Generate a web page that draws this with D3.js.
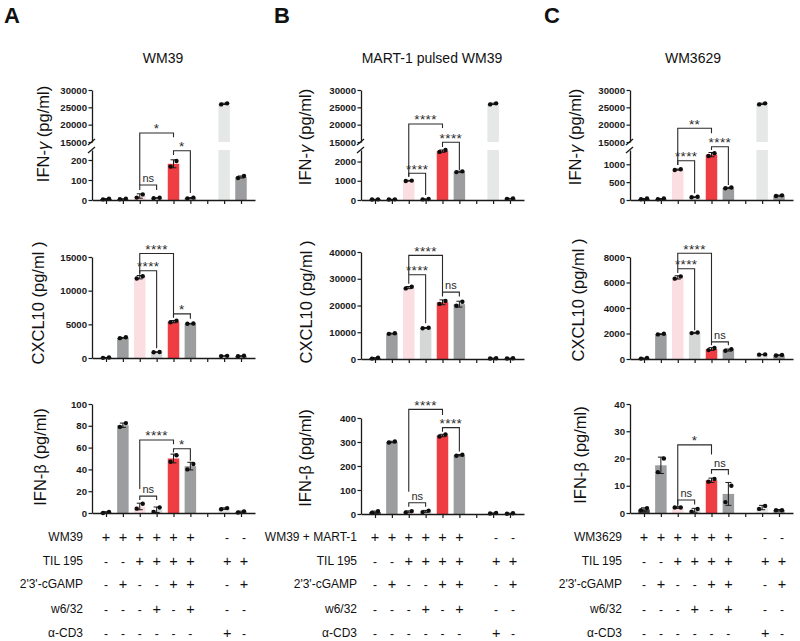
<!DOCTYPE html>
<html><head><meta charset="utf-8">
<script src="https://cdn.jsdelivr.net/npm/d3@7"></script>
<style>body{margin:0;background:#fff;} svg text{font-family:Arial,"Liberation Sans",Helvetica,sans-serif;}</style>
</head><body><svg id="c" width="800" height="641"></svg>
<script>
// ---------------- DATA ----------------
const SLOTS = [0,1,2,3,4,5,7,8];               // 9 x positions, slot 6 empty
const BAR_COLORS = ["#3d3d3d","#9c9d9f","#fbdee1","#d5d6d6","#ee3e44","#9c9d9f","#e6e7e7","#9c9d9f"];
const PANEL_LETTERS = ["A","B","C"];
const PANEL_TITLES = ["WM39","MART-1 pulsed WM39","WM3629"];
const FIRST_ROW = ["WM39","WM39 + MART-1","WM3629"];
const ROW_LABELS = ["TIL 195","2'3'-cGAMP","w6/32","α-CD3"];
const TABLE_SIGNS = [
  ["+","+","+","+","+","+","-","-"],
  ["-","-","+","+","+","+","+","+"],
  ["-","+","-","-","+","+","-","+"],
  ["-","-","-","+","-","+","-","-"],
  ["-","-","-","-","-","-","+","-"]];
const IFNG_UPPER_TICKS = [15000,20000,25000,30000];

// Panel A
const A_IFNG = [5,5,20,10,181,10,26000,115];
const A_IFNG_PTS = [[3,7],[4,6],[12,28],[9,11],[167,195],[8,12],[25850,26150],[110,120]];
const A_IFNG_ERR = [2,1,11,1,20,2,200,5];
const A_IFNG_LOW_TICKS = [0,100,200];
const A_IFNG_LOWMAX = 250;
const A_IFNG_SIG = [[2,4,17600,75,16400,"*"],[4,5,246,225,35,"*"],[2,3,75,50,50,"ns"]];

const A_CXCL = [50,3000,12000,880,5400,5100,300,300];
const A_CXCL_PTS = [[20,80],[2950,3080],[11800,12150],[850,900],[5300,5550],[5080,5130],[280,320],[270,330]];
const A_CXCL_ERR = [40,60,250,40,170,40,30,40];
const A_CXCL_TICKS = [0,5000,10000,15000];
const A_CXCL_SIG = [[2,4,15530,12600,6070,"****"],[2,3,12960,12380,1460,"****"],[4,5,6550,5970,5830,"*"]];

const A_IFNB = [0.5,80.5,6,3,50,43,4,1];
const A_IFNB_PTS = [[0,1],[79,82.5],[4,8.5],[1,5],[47,53],[40,45],[3.5,4.5],[0.5,1.5]];
const A_IFNB_ERR = [0.7,2,3,2.5,4,3.5,0.7,0.7];
const A_IFNB_TICKS = [0,20,40,60,80,100];
const A_IFNB_SIG = [[2,4,67,22,63,"****"],[4,5,59,55.5,48,"*"],[2,3,15.5,12,12,"ns"]];

// Panel B
const B_IFNG = [30,30,1000,40,2550,1470,26000,70];
const B_IFNG_PTS = [[25,35],[25,35],[990,1010],[30,50],[2500,2600],[1450,1490],[25850,26150],[60,80]];
const B_IFNG_ERR = [10,10,20,20,70,30,200,15];
const B_IFNG_LOW_TICKS = [0,1000,2000];
const B_IFNG_LOWMAX = 2600;
const B_IFNG_SIG = [[2,4,20200,1212,19040,"****"],[4,5,14500,7250,1560,"****"],[2,3,1388,1212,260,"****"]];

const B_CXCL = [300,9500,26700,11600,21200,20500,250,250];
const B_CXCL_PTS = [[150,450],[9400,9600],[26400,27000],[11500,11700],[20600,21700],[19900,21400],[200,300],[200,300]];
const B_CXCL_ERR = [200,150,400,150,900,1100,100,100];
const B_CXCL_TICKS = [0,10000,20000,30000,40000];
const B_CXCL_SIG = [[2,4,38750,31500,23400,"****"],[2,3,31500,28100,13400,"****"],[4,5,25000,23750,23400,"ns"]];

const B_IFNB = [8,300,9,11,327,245,3,2];
const B_IFNB_PTS = [[5,12],[298,302],[6,12],[8,14],[323,331],[243,247],[2,4],[1,3]];
const B_IFNB_ERR = [4,3,4,4,5,3,1.5,1.5];
const B_IFNB_TICKS = [0,100,200,300,400];
const B_IFNB_SIG = [[2,4,436,93,412,"****"],[4,5,360,343,260,"****"],[2,3,47,30,30,"ns"]];

// Panel C
const C_IFNG = [30,30,850,80,1270,340,26000,120];
const C_IFNG_PTS = [[20,40],[20,40],[840,860],[75,90],[1230,1310],[330,350],[25850,26150],[110,130]];
const C_IFNG_ERR = [12,12,15,10,60,15,200,15];
const C_IFNG_LOW_TICKS = [0,500,1000];
const C_IFNG_LOWMAX = 1400;
const C_IFNG_SIG = [[2,4,18950,980,17500,"**"],[4,5,7010,1400,420,"****"],[2,3,1100,980,188,"****"]];

const C_CXCL = [50,1950,6400,2050,780,700,350,300];
const C_CXCL_PTS = [[30,80],[1930,1980],[6300,6480],[2030,2080],[700,860],[650,760],[340,360],[280,320]];
const C_CXCL_ERR = [30,30,130,40,110,80,15,30];
const C_CXCL_TICKS = [0,2000,4000,6000,8000];
const C_CXCL_SIG = [[2,4,8300,7080,1210,"****"],[2,3,7080,6740,2260,"****"],[4,5,1340,1080,1080,"ns"]];

const C_IFNB = [1.3,17.5,2,1,12,7,2,1];
const C_IFNB_PTS = [[1,1.8],[15,20],[2,2],[0.5,1.5],[11.5,12.5],[4,10],[1.5,2.6],[1,1]];
const C_IFNB_ERR = [0.6,3,0.3,0.7,0.8,4.2,0.8,0.3];
const C_IFNB_TICKS = [0,10,20,30,40];
const C_IFNB_SIG = [[2,4,25,2.5,21.5,"*"],[4,5,15.9,14.4,14,"ns"],[2,3,4.75,3.1,3.1,"ns"]];

// ---------------- LAYOUT ----------------
const W = 163, BW = 11.5;
const PANEL_X0 = [92, 361, 630];
const LETTER_X = [4, 274, 544];
const TITLE_X = [163, 432, 693];
const TABLE_RIGHT = [83, 357, 622];
const TABLE_Y = [537, 561, 584, 609, 633];
const TABLE_X_SHIFT = [0,0,0,0,0,0,3,3];
const LAB_X = [[45,40,42],[307,308,307],[577,580,582]];
const LAB_Y = [[134,303,457],[137,302,458],[137,300,455]];
const IFNG_LOW_RANGE = [200,150], IFNG_UP_RANGE = [142,90];
const CXCL_RANGE = [[358,257],[359,252],[359,257]];
const IFNB_RANGE = [[513,404],[514,418],[513,404]];

const panels = [
  {ifng:{m:A_IFNG,p:A_IFNG_PTS,e:A_IFNG_ERR,t:A_IFNG_LOW_TICKS,low:A_IFNG_LOWMAX,s:A_IFNG_SIG},
   cxcl:{m:A_CXCL,p:A_CXCL_PTS,e:A_CXCL_ERR,t:A_CXCL_TICKS,s:A_CXCL_SIG},
   ifnb:{m:A_IFNB,p:A_IFNB_PTS,e:A_IFNB_ERR,t:A_IFNB_TICKS,s:A_IFNB_SIG}},
  {ifng:{m:B_IFNG,p:B_IFNG_PTS,e:B_IFNG_ERR,t:B_IFNG_LOW_TICKS,low:B_IFNG_LOWMAX,s:B_IFNG_SIG},
   cxcl:{m:B_CXCL,p:B_CXCL_PTS,e:B_CXCL_ERR,t:B_CXCL_TICKS,s:B_CXCL_SIG},
   ifnb:{m:B_IFNB,p:B_IFNB_PTS,e:B_IFNB_ERR,t:B_IFNB_TICKS,s:B_IFNB_SIG}},
  {ifng:{m:C_IFNG,p:C_IFNG_PTS,e:C_IFNG_ERR,t:C_IFNG_LOW_TICKS,low:C_IFNG_LOWMAX,s:C_IFNG_SIG},
   cxcl:{m:C_CXCL,p:C_CXCL_PTS,e:C_CXCL_ERR,t:C_CXCL_TICKS,s:C_CXCL_SIG},
   ifnb:{m:C_IFNB,p:C_IFNB_PTS,e:C_IFNB_ERR,t:C_IFNB_TICKS,s:C_IFNB_SIG}}
];

const svg = d3.select("#c");
const INK = "#1a1a1a";

function styleAxis(g){
  g.select(".domain").attr("stroke", INK).attr("stroke-width", 1.3);
  g.selectAll(".tick line").attr("stroke", INK).attr("stroke-width", 1.2);
  g.selectAll(".tick text").attr("font-size", 9.6).attr("font-weight", "bold")
    .attr("fill", INK).attr("font-family", "Arial, 'Liberation Sans', sans-serif");
}

function yLabel(x, y, parts){
  const t = svg.append("text").attr("transform", `translate(${x},${y}) rotate(-90)`)
    .attr("text-anchor","middle").attr("font-size",16.5).attr("fill","#111")
    .attr("dominant-baseline","middle");
  parts.forEach(p => t.append("tspan").text(p[0]).attr("font-style", p[1] ? "italic" : null));
}

function drawChart(c, x0, y, yAxes, broken){
  const x = d3.scalePoint().domain(d3.range(9)).range([x0, x0 + W]).padding(0.83);
  const g = svg.append("g");
  const y0 = y(0);
  // bars
  c.m.forEach((v, i) => {
    const cx = x(SLOTS[i]);
    if (broken && v > c.low) {
      g.append("rect").attr("x", cx - BW/2).attr("width", BW)
        .attr("y", y(c.low)).attr("height", y0 - y(c.low)).attr("fill", BAR_COLORS[i]);
      g.append("rect").attr("x", cx - BW/2).attr("width", BW)
        .attr("y", y(v)).attr("height", IFNG_UP_RANGE[0] - y(v)).attr("fill", BAR_COLORS[i]);
    } else {
      g.append("rect").attr("x", cx - BW/2).attr("width", BW)
        .attr("y", y(v)).attr("height", Math.max(0, y0 - y(v))).attr("fill", BAR_COLORS[i]);
    }
  });
  // error bars
  c.m.forEach((v, i) => {
    const cx = x(SLOTS[i]);
    const lo = y(Math.max(0, v - c.e[i])), hi = y(v + c.e[i]);
    g.append("path").attr("d", `M${cx},${lo}V${hi}M${cx-3},${hi}H${cx+3}M${cx-3},${lo}H${cx+3}`)
      .attr("stroke", INK).attr("stroke-width", 1).attr("fill","none");
  });
  // dots
  c.p.forEach((pair, i) => {
    const cx = x(SLOTS[i]);
    pair.forEach((v, k) => {
      g.append("circle").attr("cx", cx + (k ? 3 : -3)).attr("cy", y(v)).attr("r", 2.2).attr("fill", "#0d0d0d");
    });
  });
  // axes
  const xa = g.append("g").attr("transform", `translate(0,${y0})`)
    .call(d3.axisBottom(x).tickSize(4).tickSizeOuter(0).tickFormat(""));
  styleAxis(xa);
  yAxes.forEach(a => {
    const ya = g.append("g").attr("transform", `translate(${x0},0)`)
      .call(d3.axisLeft(a.scale).tickValues(a.ticks).tickSize(3.5).tickPadding(1.5).tickSizeOuter(0).tickFormat(d3.format("d")));
    styleAxis(ya);
  });
  if (broken) {
    [IFNG_LOW_RANGE[1], IFNG_UP_RANGE[0]].forEach(yy => {
      g.append("line").attr("x1", x0 - 4).attr("x2", x0 + 3).attr("y1", yy + 3).attr("y2", yy - 3)
        .attr("stroke", INK).attr("stroke-width", 1.3);
    });
  }
  // significance brackets
  c.s.forEach(s => {
    const xa_ = x(SLOTS[s[0]]), xb = x(SLOTS[s[1]]);
    const yt = y(s[2]);
    g.append("path").attr("d", `M${xa_},${y(s[3])}V${yt}H${xb}V${y(s[4])}`)
      .attr("stroke", "#2a2a2a").attr("stroke-width", 1.1).attr("fill", "none");
    const isStar = s[5] !== "ns";
    g.append("text").attr("x", (xa_ + xb)/2).attr("y", isStar ? yt + 0.5 : yt - 3)
      .attr("text-anchor","middle").attr("font-size", isStar ? 13.5 : 11)
      .attr("letter-spacing", isStar ? 0.4 : 0).attr("fill", "#2a2a2a").text(s[5]);
  });
  return x;
}

panels.forEach((P, pi) => {
  const x0 = PANEL_X0[pi];
  // letter & title
  svg.append("text").attr("x", LETTER_X[pi]).attr("y", 23).attr("font-size", 22).attr("font-weight","bold")
    .attr("fill","#111").text(PANEL_LETTERS[pi]);
  svg.append("text").attr("x", TITLE_X[pi]).attr("y", 63).attr("font-size", 14).attr("text-anchor","middle")
    .attr("fill","#111").text(PANEL_TITLES[pi]);

  // IFN-gamma (broken axis)
  const low = P.ifng.low;
  const yG = d3.scaleLinear().domain([0, low, IFNG_UPPER_TICKS[0], IFNG_UPPER_TICKS[IFNG_UPPER_TICKS.length-1]])
    .range([IFNG_LOW_RANGE[0], IFNG_LOW_RANGE[1], IFNG_UP_RANGE[0], IFNG_UP_RANGE[1]]);
  drawChart(P.ifng, x0, yG, [
    {scale: d3.scaleLinear().domain([0, low]).range(IFNG_LOW_RANGE), ticks: P.ifng.t},
    {scale: d3.scaleLinear().domain(d3.extent(IFNG_UPPER_TICKS)).range(IFNG_UP_RANGE), ticks: IFNG_UPPER_TICKS}
  ], true);
  yLabel(LAB_X[pi][0], LAB_Y[pi][0], [["IFN-",false],["γ",true],[" (pg/ml)",false]]);

  // CXCL10
  const yC = d3.scaleLinear().domain(d3.extent(P.cxcl.t)).range(CXCL_RANGE[pi]);
  drawChart(P.cxcl, x0, yC, [{scale: yC, ticks: P.cxcl.t}], false);
  yLabel(LAB_X[pi][1], LAB_Y[pi][1], [["CXCL10 (pg/ml )",false]]);

  // IFN-beta
  const yB = d3.scaleLinear().domain(d3.extent(P.ifnb.t)).range(IFNB_RANGE[pi]);
  const xs = drawChart(P.ifnb, x0, yB, [{scale: yB, ticks: P.ifnb.t}], false);
  yLabel(LAB_X[pi][2], LAB_Y[pi][2], [["IFN-β (pg/ml)",false]]);

  // condition table
  const labels = [FIRST_ROW[pi]].concat(ROW_LABELS);
  labels.forEach((lab, r) => {
    svg.append("text").attr("x", TABLE_RIGHT[pi]).attr("y", TABLE_Y[r] + 4).attr("text-anchor","end")
      .attr("font-size", 12).attr("fill","#111").text(lab);
    TABLE_SIGNS[r].forEach((sg, i) => {
      svg.append("text").attr("x", xs(SLOTS[i]) + TABLE_X_SHIFT[i]).attr("y", TABLE_Y[r] + (sg === "+" ? 5 : 4.5))
        .attr("text-anchor","middle").attr("font-size", sg === "+" ? 14.5 : 12)
        .attr("fill","#111").text(sg);
    });
  });
});
</script></body></html>
